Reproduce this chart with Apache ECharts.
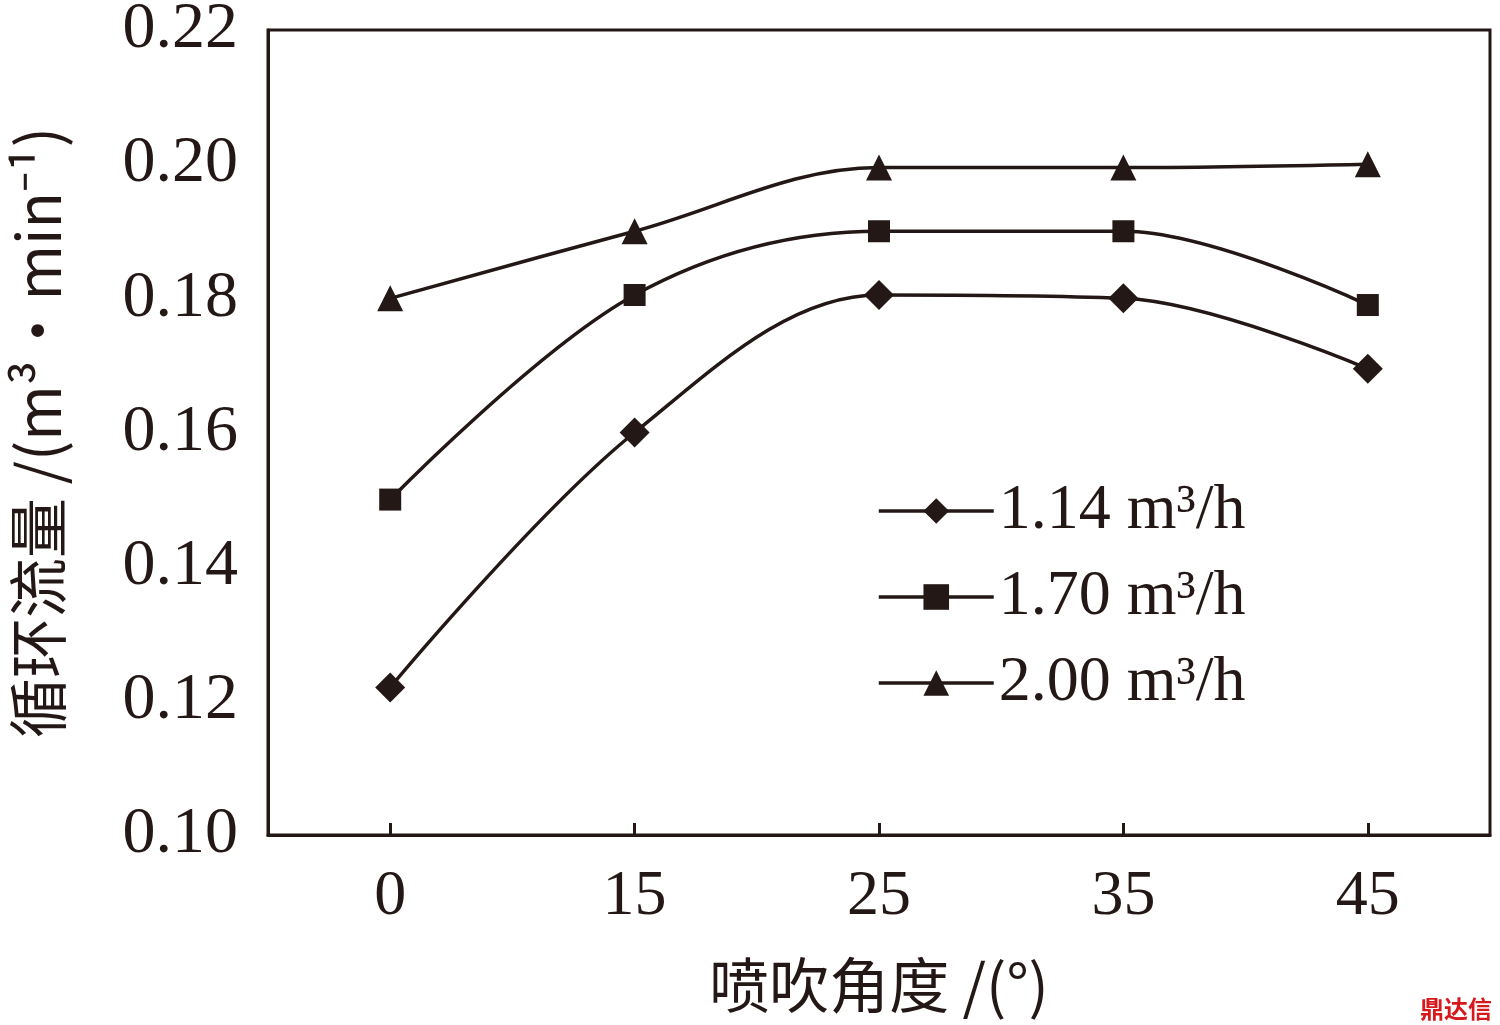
<!DOCTYPE html>
<html><head><meta charset="utf-8">
<script src="https://cdn.jsdelivr.net/npm/echarts@6/dist/echarts.min.js"></script>
<style>body{margin:0;background:#fff}#c{width:1500px;height:1025px}</style>
</head><body><div id="c"></div>
<script>
const angles = ['0', '15', '25', '35', '45'];
const flow114 = [0.122, 0.160, 0.1805, 0.180, 0.1695];
const flow170 = [0.150, 0.1805, 0.190, 0.190, 0.179];
const flow200 = [0.180, 0.190, 0.1995, 0.1995, 0.200];
const seriesNames = ['1.14 m³/h', '1.70 m³/h', '2.00 m³/h'];

const ink = '#231815';
const font = '"Liberation Serif", "Times New Roman", serif';
const chart = echarts.init(document.getElementById('c'));

const mk = (name, data, symbol, size) => ({
    name, type: 'line', data, smooth: 0.35, symbol, symbolSize: size,
    lineStyle: {color: ink, width: 3.5}, itemStyle: {color: ink}
});

chart.setOption({
    animation: false,
    textStyle: {fontFamily: font, color: ink},
    grid: {left: 268, right: 10, top: 30, bottom: 190, outerBoundsMode: 'none', containLabel: false,
        show: true, borderColor: ink, borderWidth: 3},
    legend: {
        orient: 'vertical', left: 872, top: 474, itemWidth: 115, itemHeight: 32, itemGap: 22,
        textStyle: {fontSize: 64, color: ink, fontFamily: font},
        lineStyle: {width: 3.5, color: ink},
        data: seriesNames
    },
    xAxis: {
        type: 'category', data: angles,
        name: '喷吹角度 /(°)', nameLocation: 'middle', nameGap: 120,
        nameTextStyle: {fontSize: 60, fontFamily: '"Noto Sans CJK SC", serif', color: ink},
        axisLine: {lineStyle: {color: ink, width: 3}},
        axisTick: {show: true, inside: true, alignWithLabel: true, interval: 0, length: 12, lineStyle: {color: ink, width: 3}},
        axisLabel: {fontSize: 64, color: ink, margin: 30}
    },
    yAxis: {
        type: 'value', min: 0.10, max: 0.22, interval: 0.02,
        name: '循环流量 /(m³·min⁻¹)', nameLocation: 'middle', nameGap: 200, nameRotate: 90,
        nameTextStyle: {fontSize: 60, fontFamily: '"Noto Sans CJK SC", serif', color: ink},
        splitLine: {show: false},
        axisLine: {show: true, lineStyle: {color: ink, width: 3}},
        axisTick: {show: false},
        axisLabel: {fontSize: 66, color: ink, margin: 30, formatter: v => v.toFixed(2)}
    },
    graphic: [{type: 'text', right: 8, bottom: 4,
        style: {text: '鼎达信', fontSize: 24, fill: '#d7191c', fontWeight: 'bold', fontFamily: '"Noto Sans CJK SC"'}}],
    series: [
        mk(seriesNames[0], flow114, 'diamond', 30),
        mk(seriesNames[1], flow170, 'rect', 22),
        mk(seriesNames[2], flow200, 'triangle', 26)
    ]
});
</script></body></html>
